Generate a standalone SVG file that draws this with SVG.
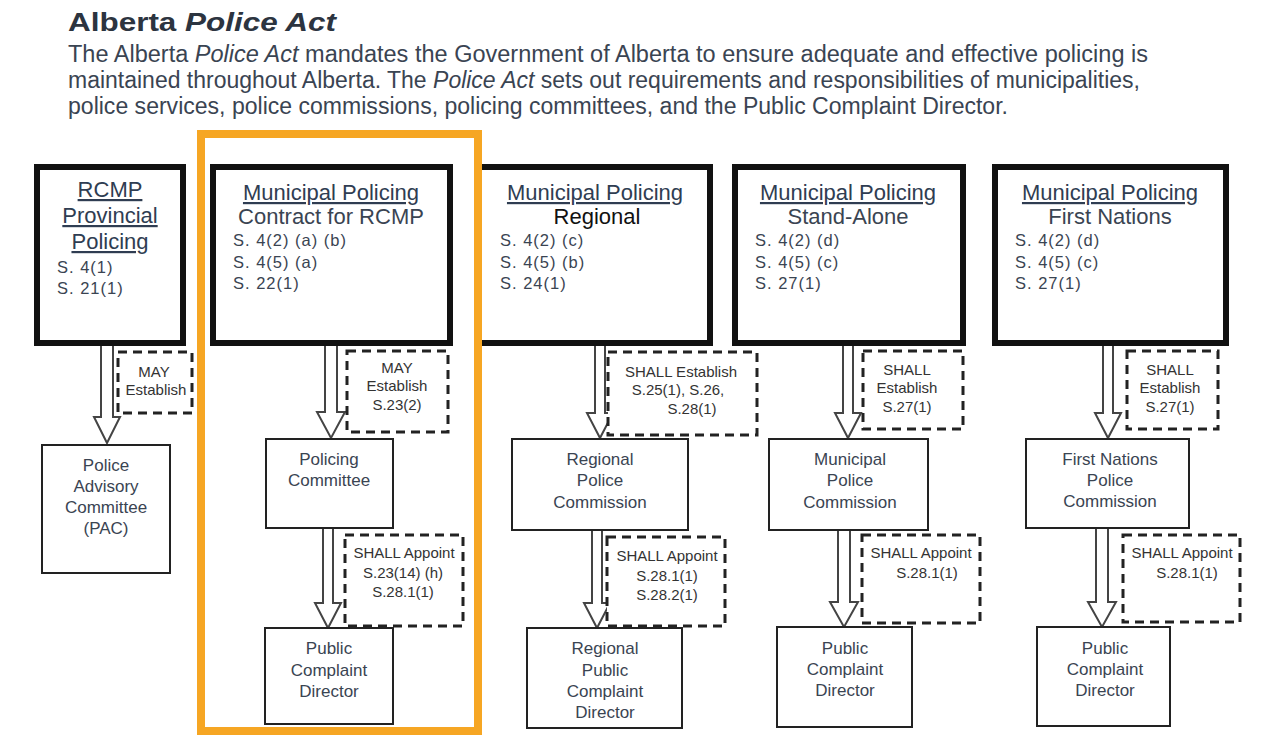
<svg xmlns="http://www.w3.org/2000/svg" width="1270" height="736" viewBox="0 0 1270 736">
<style>
text{font-family:"Liberation Sans",Arial,sans-serif;fill:#3a4452}
.title{font-size:26px;font-weight:bold;fill:#2c3440}
.body{font-size:23px}
.hd{font-size:22px;fill:#2f3d52;text-decoration:underline}
.sub{font-size:22px}
.sec{font-size:16.5px;letter-spacing:1px}
.lbl{font-size:17px;text-anchor:middle}
.dl{font-size:15px;text-anchor:middle;fill:#333}
.c{text-anchor:middle}
.top{fill:#fff;stroke:#111;stroke-width:6}
.box{fill:#fff;stroke:#222;stroke-width:2}
.dash{fill:#fff;stroke:#222;stroke-width:3;stroke-dasharray:9 6}
.arr{fill:#fff;stroke:#444;stroke-width:2;stroke-linejoin:miter}
</style>
<rect width="1270" height="736" fill="#fff"/>
<g id="header">
<text class="title" x="68" y="31" textLength="268" lengthAdjust="spacingAndGlyphs">Alberta <tspan font-style="italic">Police Act</tspan></text>
<text class="body" x="68" y="62" textLength="1080" lengthAdjust="spacingAndGlyphs">The Alberta <tspan font-style="italic">Police Act</tspan> mandates the Government of Alberta to ensure adequate and effective policing is</text>
<text class="body" x="68" y="88" textLength="1072" lengthAdjust="spacingAndGlyphs">maintained throughout Alberta. The <tspan font-style="italic">Police Act</tspan> sets out requirements and responsibilities of municipalities,</text>
<text class="body" x="68" y="114" textLength="940" lengthAdjust="spacingAndGlyphs">police services, police commissions, policing committees, and the Public Complaint Director.</text>
</g>
<g id="connectors">
<path class="arr" d="M101,346 V417 H94 L107,443 L120,417 H113 V346"/>
<path class="arr" d="M325,343 V412 H317 L331,438 L345,412 H337 V343"/>
<path class="arr" d="M323,528 V603 H315 L328,628 L341,603 H333 V528"/>
<path class="arr" d="M595,343 V413 H587 L600,438 L613,413 H605 V343"/>
<path class="arr" d="M592,530 V603 H584 L597,628 L610,603 H602 V530"/>
<path class="arr" d="M843,343 V413 H835 L848,438 L861,413 H853 V343"/>
<path class="arr" d="M838,530 V602 H830 L844,627 L858,602 H850 V530"/>
<path class="arr" d="M1103,343 V413 H1095 L1108,438 L1121,413 H1113 V343"/>
<path class="arr" d="M1096,528 V602 H1088 L1102,627 L1116,602 H1108 V528"/>
</g>
<g id="rcmp">
<rect class="top" x="37" y="167" width="146" height="176"/>
<text class="hd c" x="110" y="197">RCMP</text>
<text class="hd c" x="110" y="223">Provincial</text>
<text class="hd c" x="110" y="249">Policing</text>
<text class="sec" x="57" y="273">S. 4(1)</text>
<text class="sec" x="57" y="294">S. 21(1)</text>
</g>
<g id="contract">
<rect class="top" x="213" y="167" width="237" height="176"/>
<text class="hd c" x="331" y="200">Municipal Policing</text>
<text class="sub c" x="331" y="224">Contract for RCMP</text>
<text class="sec" x="233" y="246">S. 4(2) (a) (b)</text>
<text class="sec" x="233" y="268">S. 4(5) (a)</text>
<text class="sec" x="233" y="289">S. 22(1)</text>
</g>
<g id="regional">
<rect class="top" x="478" y="167" width="232" height="176"/>
<text class="hd c" x="595" y="200">Municipal Policing</text>
<text class="sub c" x="597" y="224" style="fill:#111">Regional</text>
<text class="sec" x="500" y="246">S. 4(2) (c)</text>
<text class="sec" x="500" y="268">S. 4(5) (b)</text>
<text class="sec" x="500" y="289">S. 24(1)</text>
</g>
<g id="standalone">
<rect class="top" x="735" y="167" width="228" height="176"/>
<text class="hd c" x="848" y="200">Municipal Policing</text>
<text class="sub c" x="848" y="224">Stand-Alone</text>
<text class="sec" x="755" y="246">S. 4(2) (d)</text>
<text class="sec" x="755" y="268">S. 4(5) (c)</text>
<text class="sec" x="755" y="289">S. 27(1)</text>
</g>
<g id="firstnations">
<rect class="top" x="995" y="167" width="231" height="176"/>
<text class="hd c" x="1110" y="200">Municipal Policing</text>
<text class="sub c" x="1110" y="224">First Nations</text>
<text class="sec" x="1015" y="246">S. 4(2) (d)</text>
<text class="sec" x="1015" y="268">S. 4(5) (c)</text>
<text class="sec" x="1015" y="289">S. 27(1)</text>
</g>
<g id="lbl-rcmp-may">
<rect class="dash" x="118" y="352" width="74" height="61"/>
<text class="dl" x="154" y="377">MAY</text>
<text class="dl" x="156" y="395">Establish</text>
</g>
<g id="lbl-contract-may">
<rect class="dash" x="347" y="351" width="101" height="81"/>
<text class="dl" x="397" y="373">MAY</text>
<text class="dl" x="397" y="391">Establish</text>
<text class="dl" x="397" y="410">S.23(2)</text>
</g>
<g id="lbl-regional-shall">
<rect class="dash" x="608" y="352" width="149" height="83"/>
<text class="dl" x="681" y="377">SHALL Establish</text>
<text class="dl" x="678" y="395">S.25(1), S.26,</text>
<text class="dl" x="692" y="414">S.28(1)</text>
</g>
<g id="lbl-standalone-shall">
<rect class="dash" x="863" y="351" width="100" height="78"/>
<text class="dl" x="907" y="375">SHALL</text>
<text class="dl" x="907" y="393">Establish</text>
<text class="dl" x="907" y="412">S.27(1)</text>
</g>
<g id="lbl-fn-shall">
<rect class="dash" x="1127" y="351" width="91" height="78"/>
<text class="dl" x="1170" y="375">SHALL</text>
<text class="dl" x="1170" y="393">Establish</text>
<text class="dl" x="1170" y="412">S.27(1)</text>
</g>
<g id="pac">
<rect class="box" x="42" y="445" width="128" height="128"/>
<text class="lbl" x="106" y="471">Police</text>
<text class="lbl" x="106" y="492">Advisory</text>
<text class="lbl" x="106" y="513">Committee</text>
<text class="lbl" x="106" y="534">(PAC)</text>
</g>
<g id="policing-committee">
<rect class="box" x="266" y="439" width="127" height="89"/>
<text class="lbl" x="329" y="465">Policing</text>
<text class="lbl" x="329" y="486">Committee</text>
</g>
<g id="regional-commission">
<rect class="box" x="512" y="439" width="176" height="91"/>
<text class="lbl" x="600" y="465">Regional</text>
<text class="lbl" x="600" y="486">Police</text>
<text class="lbl" x="600" y="508">Commission</text>
</g>
<g id="municipal-commission">
<rect class="box" x="769" y="439" width="159" height="91"/>
<text class="lbl" x="850" y="465">Municipal</text>
<text class="lbl" x="850" y="486">Police</text>
<text class="lbl" x="850" y="508">Commission</text>
</g>
<g id="fn-commission">
<rect class="box" x="1026" y="439" width="163" height="89"/>
<text class="lbl" x="1110" y="465">First Nations</text>
<text class="lbl" x="1110" y="486">Police</text>
<text class="lbl" x="1110" y="507">Commission</text>
</g>
<g id="lbl-contract-appoint">
<rect class="dash" x="345" y="535" width="118" height="91"/>
<text class="dl" x="404" y="558">SHALL Appoint</text>
<text class="dl" x="403" y="578">S.23(14) (h)</text>
<text class="dl" x="403" y="597">S.28.1(1)</text>
</g>
<g id="lbl-regional-appoint">
<rect class="dash" x="607" y="537" width="118" height="89"/>
<text class="dl" x="667" y="561">SHALL Appoint</text>
<text class="dl" x="667" y="581">S.28.1(1)</text>
<text class="dl" x="667" y="600">S.28.2(1)</text>
</g>
<g id="lbl-standalone-appoint">
<rect class="dash" x="862" y="535" width="118" height="88"/>
<text class="dl" x="921" y="558">SHALL Appoint</text>
<text class="dl" x="927" y="578">S.28.1(1)</text>
</g>
<g id="lbl-fn-appoint">
<rect class="dash" x="1123" y="535" width="117" height="87"/>
<text class="dl" x="1182" y="558">SHALL Appoint</text>
<text class="dl" x="1187" y="578">S.28.1(1)</text>
</g>
<g id="pcd-contract">
<rect class="box" x="265" y="628" width="128" height="96"/>
<text class="lbl" x="329" y="654">Public</text>
<text class="lbl" x="329" y="676">Complaint</text>
<text class="lbl" x="329" y="697">Director</text>
</g>
<g id="pcd-regional">
<rect class="box" x="527" y="628" width="155" height="100"/>
<text class="lbl" x="605" y="654">Regional</text>
<text class="lbl" x="605" y="676">Public</text>
<text class="lbl" x="605" y="697">Complaint</text>
<text class="lbl" x="605" y="718">Director</text>
</g>
<g id="pcd-standalone">
<rect class="box" x="777" y="627" width="135" height="100"/>
<text class="lbl" x="845" y="654">Public</text>
<text class="lbl" x="845" y="675">Complaint</text>
<text class="lbl" x="845" y="696">Director</text>
</g>
<g id="pcd-fn">
<rect class="box" x="1037" y="627" width="133" height="99"/>
<text class="lbl" x="1105" y="654">Public</text>
<text class="lbl" x="1105" y="675">Complaint</text>
<text class="lbl" x="1105" y="696">Director</text>
</g>
<g id="highlight">
<rect x="201" y="134" width="277" height="597" fill="none" stroke="#F6A623" stroke-width="8"/>
</g>
</svg>
